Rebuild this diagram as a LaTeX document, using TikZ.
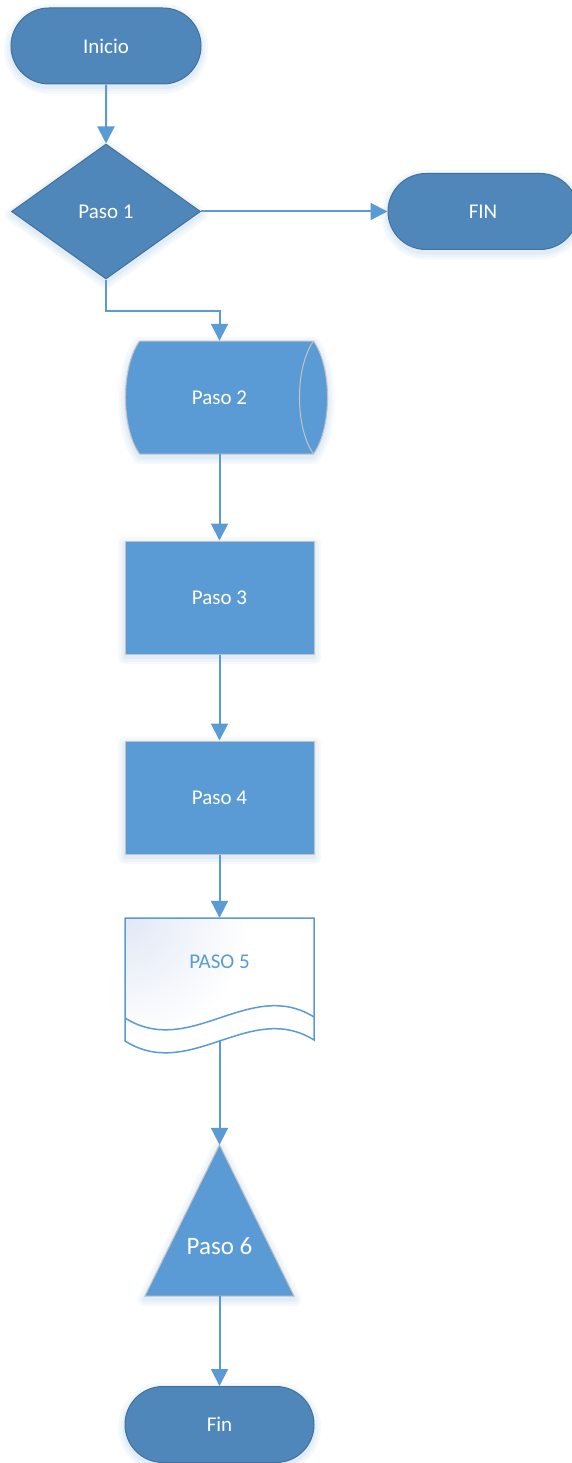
\documentclass[tikz,border=0pt]{standalone}
\usepackage{fontspec}
\setmainfont{Carlito}
\usetikzlibrary{shapes.geometric,shapes.misc,arrows.meta}
\definecolor{termfill}{HTML}{4F87BB}
\definecolor{termline}{HTML}{41719C}
\definecolor{boxfill}{HTML}{5B9BD5}
\definecolor{boxline}{HTML}{C3C3C3}
\definecolor{connblue}{HTML}{5B9BD5}
\definecolor{docshade}{HTML}{E1E8F5}

\begin{document}
\begin{tikzpicture}[x=1pt,y=-1pt,
  % soft bluish glow under the solid shapes
  glow/.style={
    preaction={draw=connblue, draw opacity=0.05, line width=14pt, line join=round,
      transform canvas={yshift=-3pt}},
    preaction={draw=connblue, draw opacity=0.06, line width=9pt, line join=round,
      transform canvas={yshift=-3pt}},
    preaction={draw=connblue, draw opacity=0.07, line width=4pt, line join=round,
      transform canvas={yshift=-3pt}}},
  txt/.style={font=\fontsize{21}{25}\selectfont, text=white},
  terminal/.style={txt, rounded rectangle, draw=termline, fill=termfill, glow,
    line width=1pt, minimum width=190pt, minimum height=76pt, inner sep=0pt},
  decision/.style={txt, diamond, draw=termline, fill=termfill, glow,
    line width=1pt, minimum width=189pt, minimum height=135pt, inner sep=0pt},
  process/.style={txt, rectangle, draw=boxline, fill=boxfill, glow,
    line width=1pt, minimum width=189pt, minimum height=113pt, inner sep=0pt},
  frame/.style={rectangle, inner sep=0pt},
  solidshape/.style={draw=boxline, fill=boxfill, glow, line width=1pt},
  conn/.style={draw=connblue, line width=2pt,
    -{Triangle[length=17pt,width=17pt]}},
]
\fill[white] (0,0) rectangle (571,1463);
\useasboundingbox (0,0) rectangle (571,1463);

% start / decision / exit
\node[terminal] (inicio) at (106,46) {Inicio};
\node[decision] (p1) at (106,211.5) {Paso 1};
\node[terminal] (fin1) at (483,211.5) {FIN};

% stored data (horizontal cylinder)
\node[frame, minimum width=188pt, minimum height=113pt] (p2) at (219.5,397.5) {};
\begin{scope}[shift={(p2.center)}]
  \path[solidshape] (-80,-56.5) -- (94,-56.5)
    .. controls (112.7,-30) and (112.7,30) .. (94,56.5) -- (-80,56.5)
    .. controls (-98.7,30) and (-98.7,-30) .. cycle;
  \draw[boxline, line width=1pt] (94,-56.5)
    .. controls (75.3,-30) and (75.3,30) .. (94,56.5);
\end{scope}
\node[txt] (p2txt) at (p2.center) {Paso 2};

% processes
\node[process] (p3) at (219.5,597.5) {Paso 3};
\node[process] (p4) at (219.5,797.5) {Paso 4};

% document with double wavy bottom, faint tint in its upper left corner
\node[frame, minimum width=189pt, minimum height=122pt] (p5) at (219.5,979) {};
\begin{scope}[shift={(p5.center)}]
  \begin{scope}
    \clip (-94.5,-61) -- (94.5,-61) -- (94.5,61)
      .. controls (30.5,21) and (-29.5,103) .. (-94.5,62) -- cycle;
    \fill[white] (-100,-70) rectangle (100,110);
    \shade[inner color=docshade, outer color=white] (-94.5,-61) circle (125);
  \end{scope}
  \draw[connblue, line width=1.5pt]
    (-94.5,-61) -- (94.5,-61) -- (94.5,61)
    .. controls (30.5,21) and (-29.5,103) .. (-94.5,62) -- cycle;
  \draw[connblue, line width=1.5pt] (-94.5,39)
    .. controls (-29.5,80) and (30.5,-2) .. (94.5,38);
\end{scope}
\node[font=\fontsize{21}{25}\selectfont, text=connblue] (p5txt) at (219.5,962) {PASO 5};

% triangle
\node[frame, minimum width=149pt, minimum height=151pt] (p6) at (219.5,1220.5) {};
\path[solidshape] (p6.north) -- (p6.south east) -- (p6.south west) -- cycle;
\node[txt, font=\fontsize{25}{30}\selectfont] (p6txt) at (219.5,1246) {Paso 6};

% end
\node[terminal, minimum width=189pt] (fin2) at (219.5,1424.5) {Fin};

% connectors
\draw[conn] (inicio) -- (p1);
\draw[conn] (p1.east) -- (fin1.west);
\draw[conn] (p1.south) -- ++(0,31) -| (p2.north);
\draw[conn] (p2.south) -- (p3.north);
\draw[conn] (p3) -- (p4);
\draw[conn] (p4.south) -- (p5.north);
\draw[conn] (p5.south) -- (p6.north);
\draw[conn] (p6.south) -- (fin2.north);
\end{tikzpicture}
\end{document}
